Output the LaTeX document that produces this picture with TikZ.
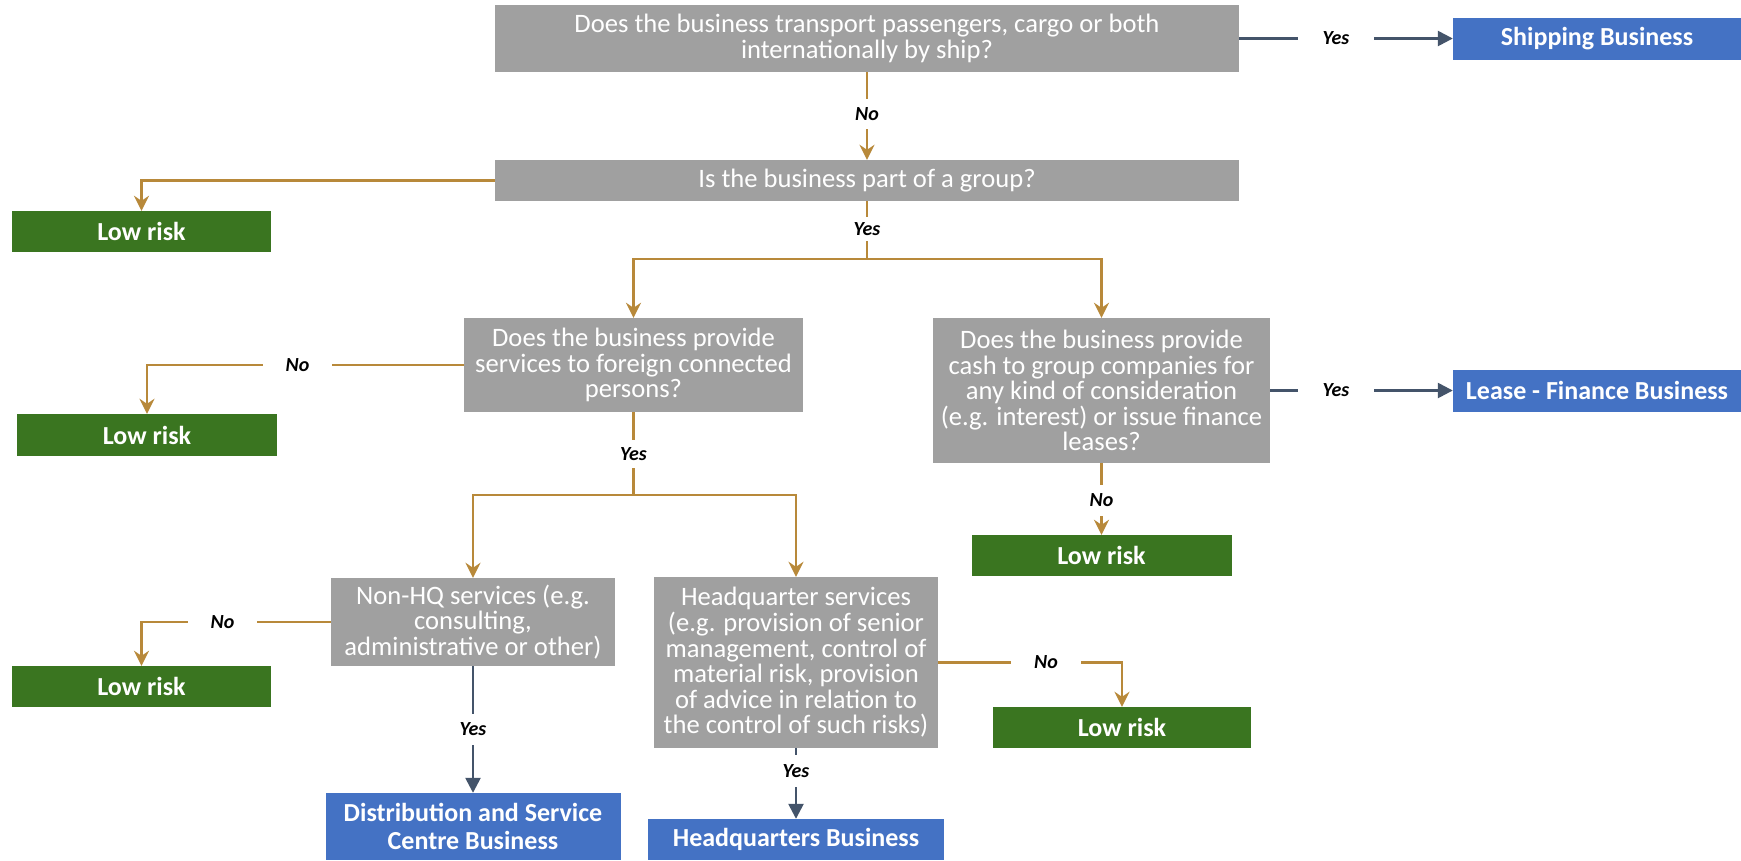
\documentclass[tikz,border=0pt]{standalone}
\usepackage{fontspec}
\setmainfont{Carlito}
\usetikzlibrary{arrows.meta}
\definecolor{qgray}{HTML}{A0A0A0}
\definecolor{lowgreen}{HTML}{3A7520}
\definecolor{resblue}{HTML}{4472C4}
\definecolor{goldc}{HTML}{B8893A}
\definecolor{darkc}{HTML}{44546A}
\tikzset{
  box/.style={inner sep=0pt, align=center, text=white, font=\fontsize{26.6pt}{25.6pt}\selectfont},
  qbox/.style={box, fill=qgray},
  lowbox/.style={box, fill=lowgreen, font=\bfseries\fontsize{26pt}{27pt}\selectfont},
  resbox/.style={box, fill=resblue, font=\bfseries\fontsize{26pt}{28pt}\selectfont},
  lbl/.style={fill=white, inner sep=0pt, text=black, font=\bfseries\itshape\fontsize{20pt}{20pt}\selectfont},
  hgap/.style={lbl, minimum height=20pt},
  vgap/.style={lbl, minimum width=30pt},
  goldplain/.style={draw=goldc, line width=2.5pt},
  goldline/.style={goldplain, -{Stealth[length=15pt, width=15pt, inset=5pt]}},
  darkline/.style={draw=darkc, line width=2.5pt, -{Triangle[length=15pt, width=15pt]}}
}
\begin{document}
\begin{tikzpicture}[x=1pt,y=-1pt]
\path[use as bounding box, fill=white] (0,0) rectangle (1741,860);
% boxes
\node[qbox, minimum width=744pt, minimum height=67pt] (q1) at (867,38.5) {Does the business transport passengers, cargo or both\\internationally by ship?};
\node[resbox, minimum width=288pt, minimum height=42pt] (ship) at (1597,38.5) {Shipping Business};
\node[qbox, minimum width=744pt, minimum height=41pt] (q2) at (867,180.5) {Is the business part of a group?};
\node[lowbox, minimum width=259pt, minimum height=41pt] (low1) at (141.5,231.5) {Low risk};
\node[qbox, minimum width=339pt, minimum height=94pt] (q3) at (633.5,365) {Does the business provide\\services to foreign connected\\persons?};
\node[lowbox, minimum width=260pt, minimum height=42pt] (low2) at (147,435) {Low risk};
\node[qbox, minimum width=337pt, minimum height=145pt] (q4) at (1101.5,390.5) {Does the business provide\\cash to group companies for\\any kind of consideration\\(e.g. interest) or issue finance\\leases?};
\node[resbox, minimum width=288pt, minimum height=42pt] (lease) at (1597,390.5) {Lease - Finance Business};
\node[lowbox, minimum width=260pt, minimum height=41pt] (low3) at (1101.5,555.5) {Low risk};
\node[qbox, minimum width=284pt, minimum height=88pt] (q5) at (473,622) {Non-HQ services (e.g.\\consulting,\\administrative or other)};
\node[lowbox, minimum width=259pt, minimum height=41pt] (low4) at (141.5,686.5) {Low risk};
\node[qbox, minimum width=284pt, minimum height=171pt] (q6) at (796,662.5) {Headquarter services\\(e.g. provision of senior\\management, control of\\material risk, provision\\of advice in relation to\\the control of such risks)};
\node[lowbox, minimum width=258pt, minimum height=41pt] (low5) at (1122,727.5) {Low risk};
\node[resbox, minimum width=295pt, minimum height=67pt] (dist) at (473,826.5) {Distribution and Service\\Centre Business};
\node[resbox, minimum width=296pt, minimum height=41pt] (hq) at (796,839.5) {Headquarters Business};
% junctions
\coordinate (j1) at (867,259);
\coordinate (j2) at (633.5,495);
% connectors
\draw[darkline] (q1) -- (ship);
\draw[goldline] (q1) -- (q2);
\draw[goldline] (q2) -| (low1);
\draw[goldplain] (q2) -- (j1);
\draw[goldline] (j1) -| (q3);
\draw[goldline] (j1) -| (q4);
\draw[goldline] (q3) -| (low2);
\draw[darkline] (q4) -- (lease);
\draw[goldline] (q4) -- (low3);
\draw[goldplain] (q3) -- (j2);
\draw[goldline] (j2) -| (q5);
\draw[goldline] (j2) -| (q6);
\draw[goldline] (q5) -| (low4);
\draw[darkline] (q5) -- (dist);
\draw[goldline] (q6) -| (low5);
\draw[darkline] (q6) -- (hq);
% labels
\node[hgap, minimum width=76pt] (yes1) at (1336,38.5) {Yes};
\node[vgap, minimum height=30pt] (no1) at (867,114) {No};
\node[vgap, minimum height=24pt] (yes2) at (867,229) {Yes};
\node[hgap, minimum width=69pt] (no2) at (297.5,365) {No};
\node[hgap, minimum width=76pt] (yes3) at (1336,390.5) {Yes};
\node[vgap, minimum height=31pt] (no3) at (1101.5,500) {No};
\node[vgap, minimum height=28pt] (yes4) at (633.5,454) {Yes};
\node[hgap, minimum width=69pt] (no4) at (222.5,622) {No};
\node[hgap, minimum width=70pt] (no5) at (1046,662.5) {No};
\node[vgap, minimum height=31pt] (yes5) at (473,729.5) {Yes};
\node[vgap, minimum height=32pt] (yes6) at (796,771) {Yes};
\end{tikzpicture}
\end{document}
